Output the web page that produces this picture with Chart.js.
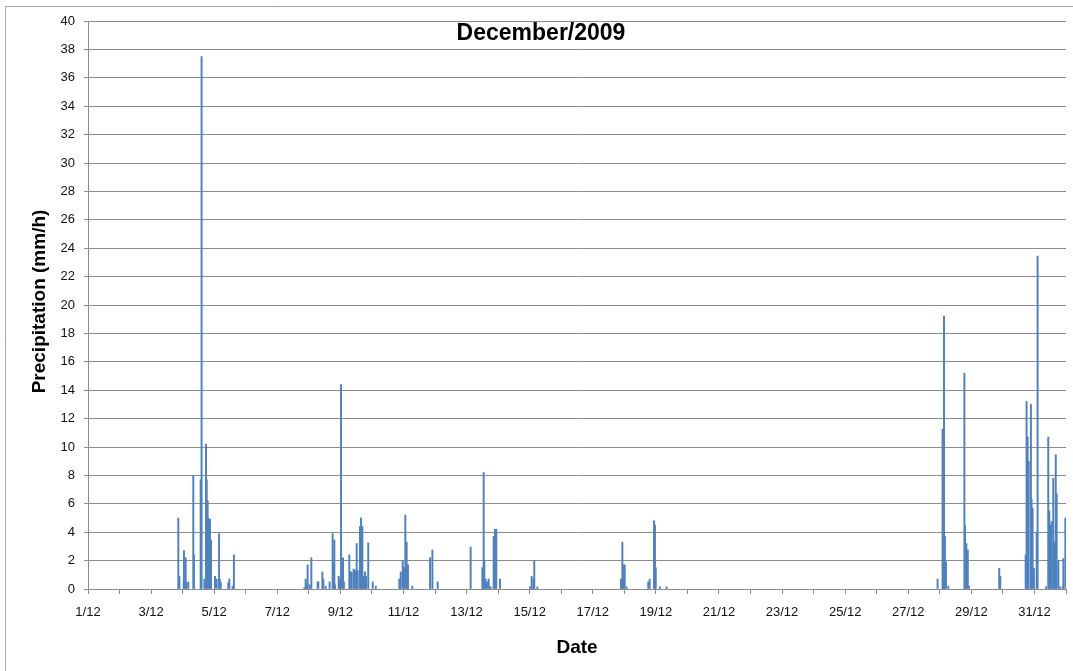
<!DOCTYPE html>
<html><head><meta charset="utf-8">
<script src="https://cdn.jsdelivr.net/npm/chart.js@4"></script>
<style>html,body{margin:0;padding:0;background:#fff;} canvas{display:block}</style>
</head><body><canvas id="c" width="1073" height="671"></canvas>
<script>
const chartTitle = 'December/2009';
const xTitle = 'Date';
const yTitle = 'Precipitation (mm/h)';
const tickLabels = ['1/12','3/12','5/12','7/12','9/12','11/12','13/12','15/12','17/12','19/12','21/12','23/12','25/12','27/12','29/12','31/12'];
// time of each rain record in hours since 1 Dec 00:00, and its intensity (mm/h)
const rainHour = [
  68.7,69.5,72.8,73.0,74.3,74.8,76.3,80.1,80.6,85.7,86.4,88.5,89.8,90.3,91.0,91.6,92.8,93.6,96.6,97.9,99.7,100.3,101.0,106.7,107.5,110.0,111.0,
  164.6,165.6,166.6,167.1,168.6,169.9,174.7,175.2,178.3,179.0,180.8,183.8,186.1,186.6,187.4,187.9,190.7,191.7,192.5,194.0,194.7,
  198.8,199.6,200.6,202.1,203.1,204.4,205.2,206.9,207.7,208.7,209.4,210.7,211.5,213.2,216.6,218.9,
  236.8,237.9,239.4,240.4,241.4,242.4,243.4,246.7,260.2,262.0,266.0,
  291.1,300.0,301.0,301.5,302.5,303.5,304.8,305.6,306.3,308.6,309.6,310.6,313.4,
  336.2,337.5,338.8,339.5,341.8,
  405.5,406.5,407.2,408.3,409.8,
  426.2,427.3,430.6,431.3,431.9,435.1,440.2,
  646.3,650.1,650.6,651.2,651.9,652.7,654.5,
  666.7,667.2,668.2,669.3,670.2,
  693.2,694.0,713.3,714.0,714.8,715.6,717.3,717.8,718.6,719.6,721.7,722.4,
  728.8,730.5,731.3,732.3,733.1,734.3,735.1,736.2,736.9,738.2,739.5,741.5,742.0,743.5
];
const rainMm = [
  5.0,0.9,0.45,2.7,2.2,0.45,0.5,8.0,2.4,7.7,37.5,0.7,10.2,7.7,6.2,5.0,4.9,3.45,0.9,0.7,3.9,0.7,0.45,0.45,0.7,0.2,2.4,
  0.1,0.7,0.3,1.7,0.3,2.2,0.5,0.5,1.2,0.7,0.2,0.5,3.9,1.7,3.45,0.3,0.9,0.7,14.4,2.2,0.5,
  2.4,1.2,1.2,1.4,1.3,3.2,1.3,4.4,5.0,4.4,0.9,1.2,0.9,3.25,0.5,0.2,
  0.7,1.2,2.0,1.5,5.2,3.3,1.7,0.2,2.2,2.75,0.5,
  2.95,1.5,8.2,2.0,0.7,0.5,0.7,0.15,0.15,3.7,4.2,4.2,0.7,
  0.15,0.9,0.7,2.0,0.15,
  0.7,3.3,1.7,1.7,0.15,
  0.5,0.7,4.8,4.5,1.5,0.15,0.15,
  0.7,11.25,3.7,19.2,3.7,1.9,0.2,
  15.2,4.45,3.2,2.75,0.2,
  1.45,0.9,2.4,13.2,10.7,9.0,13.0,6.3,5.7,1.45,4.0,23.45,
  0.15,10.7,5.5,4.5,4.75,7.8,3.3,9.45,6.7,2.0,0.15,0.15,2.15,5.0
];

const axisGray = '#8c8c8c';
const decor = {
  id: 'decor',
  afterDraw(chart) {
    const ctx = chart.ctx;
    ctx.save();
    ctx.strokeStyle = '#a6a6a6';
    ctx.lineWidth = 1;
    ctx.beginPath();
    ctx.moveTo(5.5, 671); ctx.lineTo(5.5, 6.5); ctx.lineTo(1073, 6.5);
    ctx.stroke();
    ctx.fillStyle = '#000';
    ctx.textAlign = 'center';
    ctx.textBaseline = 'alphabetic';
    ctx.font = 'bold 23px "Liberation Sans"';
    ctx.fillText(chartTitle, 541, 40);
    ctx.font = 'bold 19px "Liberation Sans"';
    ctx.fillText(xTitle, 577, 653);
    ctx.translate(45, 301.5);
    ctx.rotate(-Math.PI / 2);
    ctx.fillText(yTitle, 0, 0);
    ctx.restore();
  }
};

new Chart(document.getElementById('c'), {
  type: 'bar',
  data: {
    datasets: [{
      data: rainHour.map((h, i) => ({ x: h, y: rainMm[i] })),
      backgroundColor: '#4F81BD',
      borderWidth: 0,
      barThickness: 1.3,
      grouped: false
    }]
  },
  options: {
    responsive: false,
    animation: false,
    layout: { padding: { top: 21, right: 7, left: 0, bottom: 0 } },
    plugins: { legend: { display: false }, tooltip: { enabled: false }, title: { display: false } },
    scales: {
      x: {
        type: 'linear', min: 0, max: 744, offset: false,
        grid: { drawOnChartArea: false, tickLength: 5, color: axisGray, offset: false },
        border: { color: axisGray },
        ticks: {
          stepSize: 24, autoSkip: false, maxRotation: 0, minRotation: 0, padding: 2,
          color: '#111', font: { family: 'Liberation Sans', size: 13, lineHeight: 2.46 },
          callback: (v) => { const d = Math.round(v / 24); return d % 2 === 0 && tickLabels[d / 2] ? tickLabels[d / 2] : ''; }
        },
        afterFit(s) { s.height = 82; }
      },
      y: {
        min: 0, max: 40,
        grid: { color: axisGray, tickLength: 4 },
        border: { color: axisGray },
        ticks: { stepSize: 2, padding: 9, color: '#111', font: { family: 'Liberation Sans', size: 13 } },
        afterFit(s) { s.width = 88; }
      }
    }
  },
  plugins: [decor]
});
</script>
</body></html>
